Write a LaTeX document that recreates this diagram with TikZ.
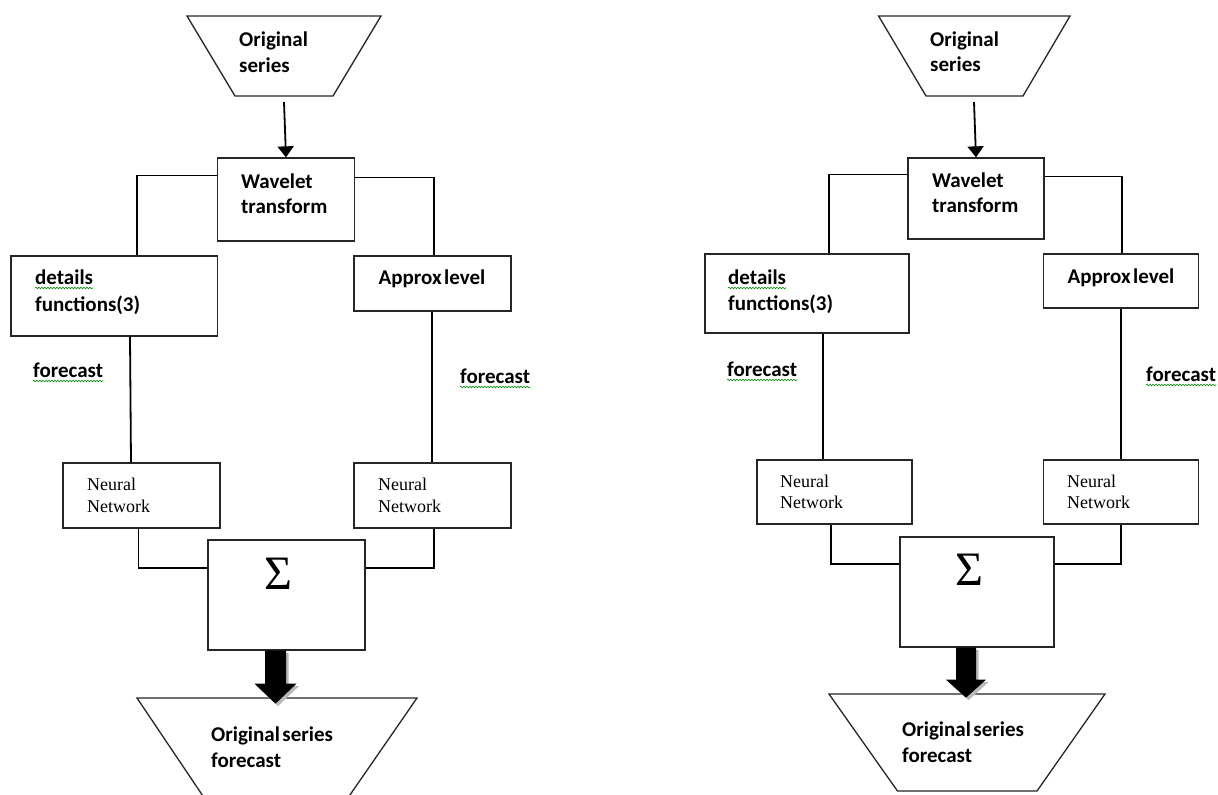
\documentclass[tikz,border=0pt]{standalone}
\usepackage{fontspec}
\setmainfont{Carlito}
\newfontfamily\tnr{Liberation Serif}
\usetikzlibrary{arrows.meta,decorations.pathmorphing,calc}
\tikzset{
  box/.style={draw=black!85, line width=1.3pt, rectangle, inner sep=0pt},
  lbl/.style={font=\bfseries\fontsize{21}{26}\selectfont, inner sep=0pt, anchor=base west},
  nn/.style={font=\tnr\fontsize{18}{22}\selectfont, inner sep=0pt, anchor=base west},
  sig/.style={font=\tnr\fontsize{48}{52}\selectfont, inner sep=0pt, anchor=base},
  wire/.style={line width=1.2pt, black},
  vwire/.style={line width=1.8pt, black},
  trap/.style={draw=black!85, line width=1.3pt},
  spell/.style={draw=green!55!black, line width=0.6pt, decorate, decoration={snake, segment length=3pt, amplitude=0.8pt}},
  thinarrow/.style={vwire, -{Triangle[width=16pt,length=11pt]}}
}
\begin{document}
\begin{tikzpicture}[x=1pt,y=-1pt]
\useasboundingbox (0,0) rectangle (1218,795);
\clip (0,0) rectangle (1218,795);
\fill[white] (0,0) rectangle (1218,795);

% ================= LEFT DIAGRAM =================
\draw[trap] (187,16) -- (381,16) -- (333,96) -- (235,96) -- cycle;
\coordinate (Ltrapb) at (284,102);
\node[lbl] (Lo1) at (239,46) {Original};
\node[lbl] (Lo2) at (239,72) {series};

\node[box, minimum width=137.5pt, minimum height=83pt] (Lwav) at (286,199.5) {};
\node[box, minimum width=206.5pt, minimum height=80pt] (Ldet) at (114.25,296) {};
\node[box, minimum width=157pt, minimum height=55pt] (Lapp) at (432.5,283.5) {};
\node[box, minimum width=157pt, minimum height=65pt] (Lnn1) at (141.5,495.5) {};
\node[box, minimum width=157pt, minimum height=65pt] (Lnn2) at (432.5,495.5) {};
\node[box, minimum width=157pt, minimum height=110pt] (Lsum) at (286.5,595) {};

\node[lbl] (Lw1) at (241,188) {Wavelet};
\node[lbl] (Lw2) at (241,213) {transform};
\node[lbl] (Ld1) at (35,284) {details};
\node[lbl] (Ld2) at (35,311) {functions(3)};
\node[lbl, anchor=base] (La1) at (432,284) {{\spaceskip=0.12em Approx level}};
\node[lbl] (Lf1) at (33,377) {forecast};
\node[lbl] (Lf2) at (460,383) {forecast};
\node[nn] (Ln1a) at (87,490) {Neural};
\node[nn] (Ln1b) at (87,512) {Network};
\node[nn] (Ln2a) at (378,490) {Neural};
\node[nn] (Ln2b) at (378,512) {Network};
\node[sig] (Ls) at (278,589) {Σ};

\draw[spell] ([yshift=-4pt]Ld1.base west) -- ([yshift=-4pt]Ld1.base east);
\draw[spell] ([yshift=-4pt]Lf1.base west) -- ([yshift=-4pt]Lf1.base east);
\draw[spell] ([yshift=-4pt]Lf2.base west) -- ([yshift=-4pt]Lf2.base east);

\draw[thinarrow] (Ltrapb) -- (Lwav.north);
\draw[wire] ([yshift=-18pt]Lwav.north west) -| ([xshift=22.75pt]Ldet.north);
\draw[wire] ([yshift=-20pt]Lwav.north east) -| ([xshift=1.5pt]Lapp.north);
\draw[vwire] ([xshift=15.75pt]Ldet.south) -- ([xshift=-10.5pt]Lnn1.north);
\draw[vwire] ([xshift=-0.5pt]Lapp.south) -- ([xshift=-0.5pt]Lnn2.north);
\draw[wire] ([xshift=-3pt]Lnn1.south) |- ([yshift=27pt]Lsum.west);
\draw[wire] ([xshift=1.5pt]Lnn2.south) |- ([yshift=27pt]Lsum.east);

\draw[trap] (137,698) -- (417,698) -- (343,805) -- (209,805) -- cycle;
\node[lbl] (Lr1) at (211,741) {{\spaceskip=0.12em Original series}};
\node[lbl] (Lr2) at (211,767) {forecast};

\fill[gray!55] ($([xshift=-11pt]Lsum.south)+(2.5,2.5)$) ++(-10.5,0) -- ++(0,33) -- ++(-10.5,0) -- ++(21,20) -- ++(21,-20) -- ++(-10.5,0) -- ++(0,-33) -- cycle;
\fill[black] ([xshift=-11pt]Lsum.south) ++(-10.5,0) -- ++(0,33) -- ++(-10.5,0) -- ++(21,20) -- ++(21,-20) -- ++(-10.5,0) -- ++(0,-33) -- cycle;

% ================= RIGHT DIAGRAM =================
\draw[trap] (878.6,16) -- (1070,16) -- (1023,96) -- (926,96) -- cycle;
\coordinate (Rtrapb) at (974,102);
\node[lbl] (Ro1) at (930,46) {Original};
\node[lbl] (Ro2) at (930,71) {series};

\node[box, minimum width=136pt, minimum height=81pt] (Rwav) at (976,198.5) {};
\node[box, minimum width=204pt, minimum height=79pt] (Rdet) at (807,293.5) {};
\node[box, minimum width=155pt, minimum height=54pt] (Rapp) at (1121,281) {};
\node[box, minimum width=155pt, minimum height=64pt] (Rnn1) at (834.5,492) {};
\node[box, minimum width=155pt, minimum height=64pt] (Rnn2) at (1121,492) {};
\node[box, minimum width=154pt, minimum height=110pt] (Rsum) at (977,592) {};

\node[lbl] (Rw1) at (932,187) {Wavelet};
\node[lbl] (Rw2) at (932,212) {transform};
\node[lbl] (Rd1) at (728,284) {details};
\node[lbl] (Rd2) at (728,310) {functions(3)};
\node[lbl, anchor=base] (Ra1) at (1121,283) {{\spaceskip=0.12em Approx level}};
\node[lbl] (Rf1) at (727,376) {forecast};
\node[lbl] (Rf2) at (1146,381) {forecast};
\node[nn] (Rn1a) at (780,487) {Neural};
\node[nn] (Rn1b) at (780,508) {Network};
\node[nn] (Rn2a) at (1067,487) {Neural};
\node[nn] (Rn2b) at (1067,508) {Network};
\node[sig] (Rs) at (969,585) {Σ};

\draw[spell] ([yshift=-4pt]Rd1.base west) -- ([yshift=-4pt]Rd1.base east);
\draw[spell] ([yshift=-4pt]Rf1.base west) -- ([yshift=-4pt]Rf1.base east);
\draw[spell] ([yshift=-4pt]Rf2.base west) -- ([yshift=-4pt]Rf2.base east);

\draw[thinarrow] (Rtrapb) -- (Rwav.north);
\draw[wire] ([yshift=-17pt]Rwav.north west) -| ([xshift=22pt]Rdet.north);
\draw[wire] ([yshift=-19pt]Rwav.north east) -| ([xshift=1pt]Rapp.north);
\draw[vwire] ([xshift=16pt]Rdet.south) -- ([xshift=-11.5pt]Rnn1.north);
\draw[vwire] (Rapp.south) -- (Rnn2.north);
\draw[wire] ([xshift=-3.5pt]Rnn1.south) |- ([yshift=28pt]Rsum.west);
\draw[wire] (Rnn2.south) |- ([yshift=28pt]Rsum.east);

\draw[trap] (829,694) -- (1105,694) -- (1037,791) -- (897.5,791) -- cycle;
\node[lbl] (Rr1) at (902,736) {{\spaceskip=0.12em Original series}};
\node[lbl] (Rr2) at (902,762) {forecast};

\fill[gray!55] ($([xshift=-11pt]Rsum.south)+(2.5,2.5)$) ++(-10,0) -- ++(0,32) -- ++(-10,0) -- ++(20,18) -- ++(20,-18) -- ++(-10,0) -- ++(0,-32) -- cycle;
\fill[black] ([xshift=-11pt]Rsum.south) ++(-10,0) -- ++(0,32) -- ++(-10,0) -- ++(20,18) -- ++(20,-18) -- ++(-10,0) -- ++(0,-32) -- cycle;
\end{tikzpicture}
\end{document}
